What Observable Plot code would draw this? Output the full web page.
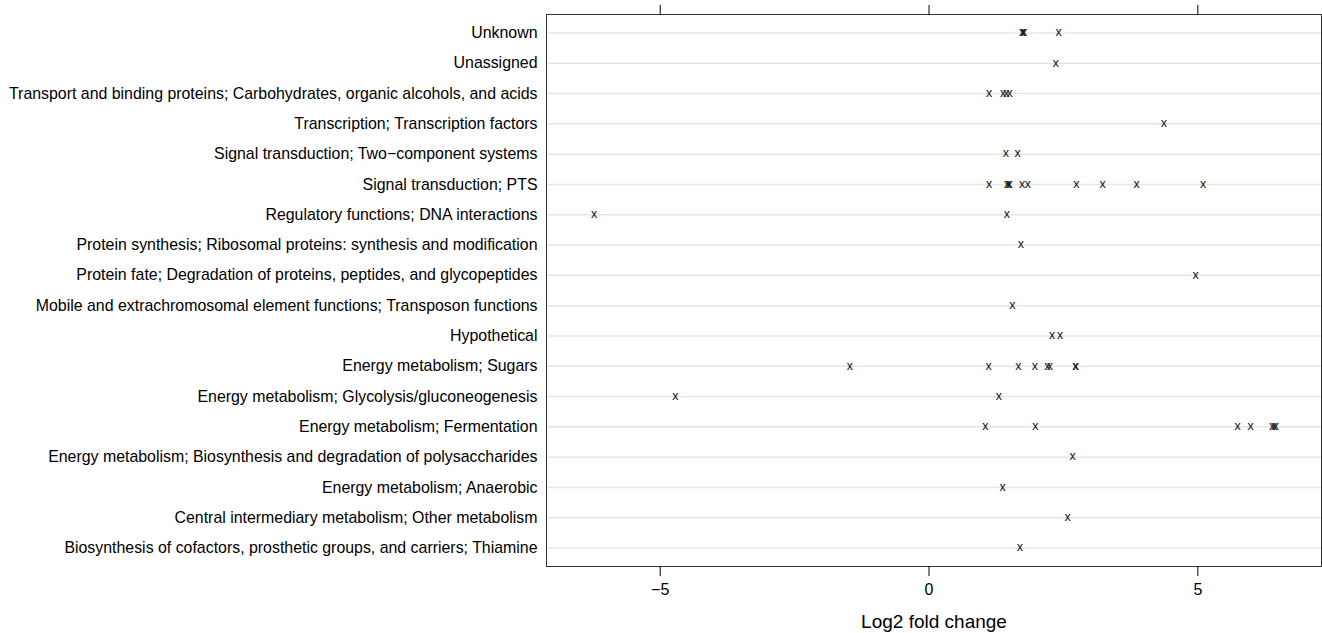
<!DOCTYPE html>
<html><head><meta charset="utf-8">
<script src="https://cdn.jsdelivr.net/npm/d3@7"></script>
<script src="https://cdn.jsdelivr.net/npm/@observablehq/plot@0.6"></script>
<style>body{margin:0;background:#fff}</style>
</head><body><div id="chart"></div>
<script>
const categories = [
  "Unknown",
  "Unassigned",
  "Transport and binding proteins; Carbohydrates, organic alcohols, and acids",
  "Transcription; Transcription factors",
  "Signal transduction; Two\u2212component systems",
  "Signal transduction; PTS",
  "Regulatory functions; DNA interactions",
  "Protein synthesis; Ribosomal proteins: synthesis and modification",
  "Protein fate; Degradation of proteins, peptides, and glycopeptides",
  "Mobile and extrachromosomal element functions; Transposon functions",
  "Hypothetical",
  "Energy metabolism; Sugars",
  "Energy metabolism; Glycolysis/gluconeogenesis",
  "Energy metabolism; Fermentation",
  "Energy metabolism; Biosynthesis and degradation of polysaccharides",
  "Energy metabolism; Anaerobic",
  "Central intermediary metabolism; Other metabolism",
  "Biosynthesis of cofactors, prosthetic groups, and carriers; Thiamine"
];
const values = [
  [1.73, 1.75, 1.77, 2.41],
  [2.36],
  [1.12, 1.38, 1.44, 1.50],
  [4.37],
  [1.43, 1.65],
  [1.12, 1.45, 1.48, 1.50, 1.73, 1.84, 2.74, 3.23, 3.86, 5.10],
  [-6.23, 1.45],
  [1.71],
  [4.96],
  [1.55],
  [2.29, 2.44],
  [-1.47, 1.11, 1.66, 1.97, 2.20, 2.25, 2.72, 2.73],
  [-4.72, 1.30],
  [1.05, 1.98, 5.74, 5.98, 6.38, 6.42, 6.45],
  [2.67],
  [1.37],
  [2.58],
  [1.69]
];
const xTicks = [-5, 0, 5];
const xLabel = "Log2 fold change";

const data = categories.flatMap((c, i) => values[i].map(v => ({category: c, value: v})));

const chart = Plot.plot({
  width: 1322, height: 633,
  marginLeft: 546, marginRight: 1, marginTop: 14, marginBottom: 67,
  style: {fontFamily: "'Liberation Sans', Arial, sans-serif", fontSize: "15.9px", background: "#fff", color: "#000"},
  x: {domain: [-7.115, 7.30], ticks: xTicks, label: null},
  y: {type: "point", domain: categories, padding: 0.61, round: false, label: null},
  marks: [
    Plot.gridY({stroke: "#e6e6e6", strokeOpacity: 1, strokeWidth: 1.5}),
    Plot.frame({stroke: "#333"}),
    Plot.axisX(xTicks, {anchor: "bottom", tickSize: 10, tickPadding: 7.5, fontSize: 16, label: null}),
    Plot.axisX(xTicks, {anchor: "top", tickSize: 10, tickFormat: () => "", label: null}),
    Plot.axisY({tickSize: 0, tickPadding: 9, fontSize: 15.9, label: null}),
    Plot.text(data, {x: "value", y: "category", text: () => "x", fontSize: 12.5, fill: "#111", dy: -0.7}),
    Plot.text([xLabel], {frameAnchor: "bottom", dy: 61, text: d => d, fontSize: 19})
  ]
});
document.getElementById("chart").append(chart);
</script>
</body></html>
